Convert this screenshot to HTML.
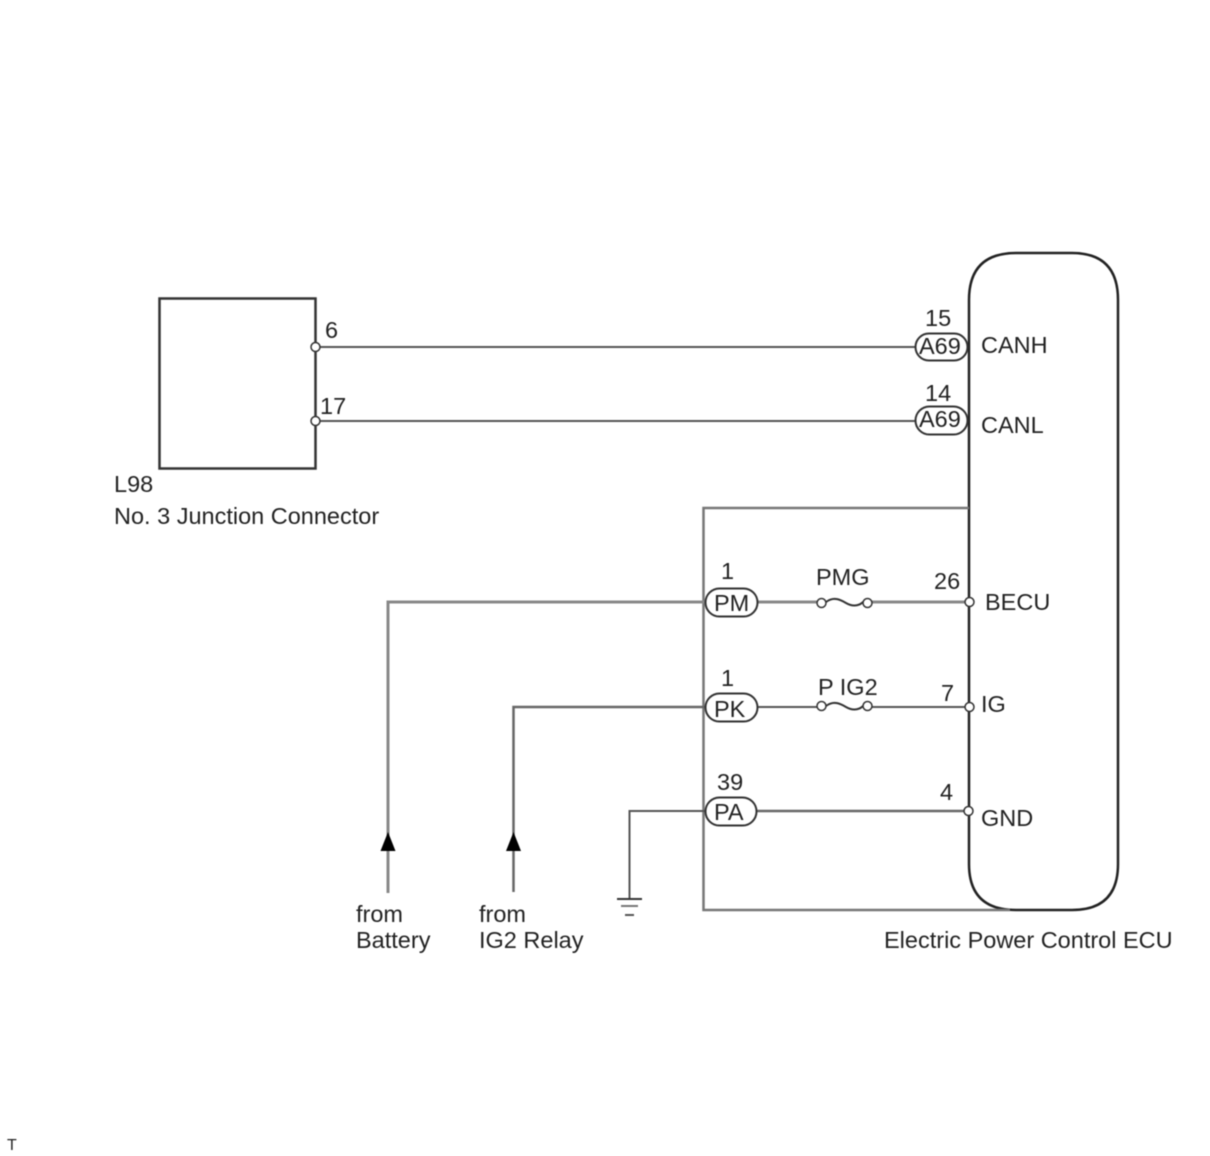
<!DOCTYPE html>
<html>
<head>
<meta charset="utf-8">
<style>
html,body{margin:0;padding:0;background:#fff;width:1210px;height:1156px;overflow:hidden}
svg{display:block;filter:blur(0.45px)}
text{font-family:"Liberation Sans",sans-serif;font-size:23.5px;fill:#222}
</style>
</head>
<body>
<svg width="1210" height="1156" viewBox="0 0 1210 1156" xmlns="http://www.w3.org/2000/svg">
<g fill="none" stroke="#333" stroke-width="2">
<rect x="159.500" y="298.500" width="156" height="170" stroke-width="2.500"/>
<line x1="316" y1="347" x2="916" y2="347" stroke="#555"/>
<line x1="316" y1="421" x2="916" y2="421" stroke="#555"/>
<path d="M969 864 V300 Q969 253 1016 253 H1072 Q1118 253 1118 300 V864 Q1118 910 1072 910 H1016 Q969 910 969 864" stroke="#222" stroke-width="2.500"/>
<path d="M969 508 H703.500 V910 H1010" stroke="#777" stroke-width="2.500"/>
<path d="M706 602 H388 V893" stroke="#888" stroke-width="3"/>
<path d="M706 707 H513.500 V892" stroke="#666" stroke-width="2.500"/>
<path d="M706 811 H629.500 V898" stroke="#555" stroke-width="2"/>
<line x1="757" y1="602" x2="817" y2="602" stroke="#888" stroke-width="3"/>
<line x1="872" y1="602" x2="966" y2="602" stroke="#888" stroke-width="3"/>
<line x1="757" y1="707" x2="817" y2="707" stroke="#555" stroke-width="2"/>
<line x1="872" y1="707" x2="966" y2="707" stroke="#555" stroke-width="2"/>
<line x1="755" y1="811" x2="965" y2="811" stroke="#666" stroke-width="2.500"/>
<path d="M826 602 C834 596 841 600 846 603 C851 606 858 607 863 602" stroke-width="2"/>
<path d="M826 706 C834 700 841 704 846 707 C851 710 858 711 863 706" stroke-width="2"/>
<line x1="617" y1="899" x2="642" y2="899" stroke-width="2"/>
<line x1="621" y1="906" x2="638" y2="906" stroke="#777" stroke-width="2"/>
<line x1="625" y1="915" x2="634" y2="915" stroke="#555" stroke-width="2"/>
</g>
<g fill="#fff" stroke="#333" stroke-width="2">
<rect x="915.500" y="333.500" width="52" height="27" rx="13.500"/>
<rect x="915.500" y="406.500" width="52" height="28" rx="14"/>
<rect x="705.500" y="588.500" width="52" height="28" rx="14"/>
<rect x="705.500" y="693.500" width="52" height="28" rx="14"/>
<rect x="705.500" y="797.500" width="51" height="28" rx="14"/>
<circle cx="315.500" cy="347" r="4.500" stroke-width="1.500"/>
<circle cx="315.500" cy="421" r="4.500" stroke-width="1.500"/>
<circle cx="821.500" cy="603" r="4.500" stroke-width="1.500"/>
<circle cx="867.500" cy="603" r="4.500" stroke-width="1.500"/>
<circle cx="821.500" cy="706" r="4.500" stroke-width="1.500"/>
<circle cx="867.500" cy="706" r="4.500" stroke-width="1.500"/>
<circle cx="969.500" cy="602" r="4.500" stroke-width="1.500"/>
<circle cx="969.500" cy="707" r="4.500" stroke-width="1.500"/>
<circle cx="968.500" cy="811" r="4.500" stroke-width="1.500"/>
</g>
<polygon points="388,832 380.500,851 395.500,851" fill="#000"/>
<polygon points="513.500,832 506,851 521,851" fill="#000"/>
<text x="325" y="338">6</text>
<text x="320" y="414">17</text>
<text x="114" y="492">L98</text>
<text x="114" y="524">No. 3 Junction Connector</text>
<text x="925" y="326">15</text>
<text x="925" y="401">14</text>
<text x="919" y="354">A69</text>
<text x="919" y="427">A69</text>
<text x="981" y="353">CANH</text>
<text x="981" y="433">CANL</text>
<text x="721" y="579">1</text>
<text x="721" y="686">1</text>
<text x="717" y="790">39</text>
<text x="714" y="611">PM</text>
<text x="714" y="717">PK</text>
<text x="714" y="820">PA</text>
<text x="816" y="585">PMG</text>
<text x="818" y="695">P IG2</text>
<text x="934" y="589">26</text>
<text x="941" y="701">7</text>
<text x="940" y="800">4</text>
<text x="985" y="610">BECU</text>
<text x="981" y="712">IG</text>
<text x="981" y="826">GND</text>
<text x="356" y="922">from</text>
<text x="356" y="948">Battery</text>
<text x="479" y="922">from</text>
<text x="479" y="948">IG2 Relay</text>
<text x="884" y="948">Electric Power Control ECU</text>
<text x="7" y="1150" style="font-size:16px">T</text>
</svg>
</body>
</html>
